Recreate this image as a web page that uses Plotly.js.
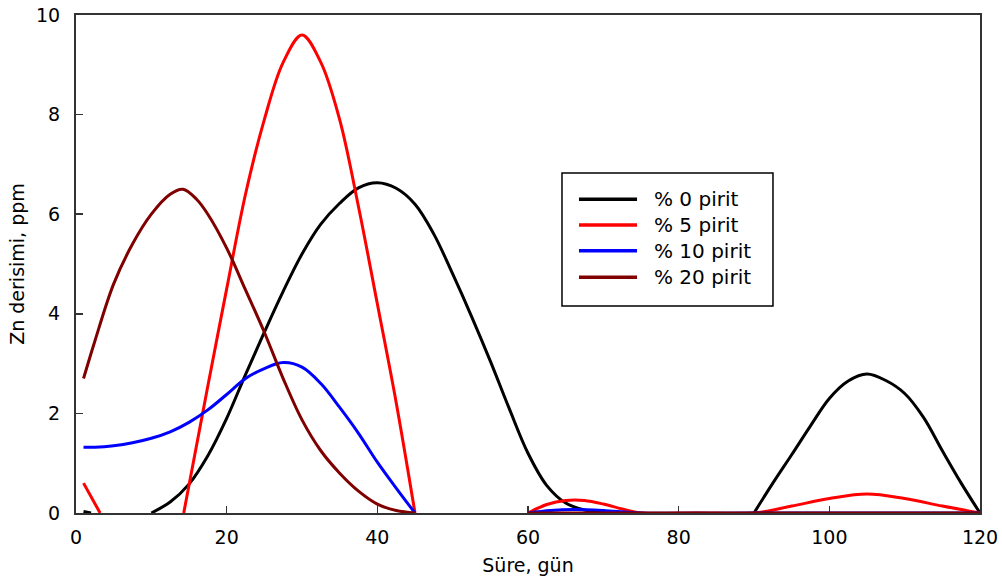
<!DOCTYPE html>
<html>
<head>
<meta charset="utf-8">
<script src="https://cdn.plot.ly/plotly-3.0.1.min.js"></script>
<style>html,body{margin:0;padding:0;background:#fff;}#chart{width:1002px;height:583px;}</style>
</head>
<body>
<div id="chart"></div>
<script>
// Series names and colours
const seriesNames = ["% 0 pirit", "% 5 pirit", "% 10 pirit", "% 20 pirit"];
const seriesColors = ["#000000", "#ff0000", "#0000ff", "#800000"];

// % 0 pirit (null = gap)
const days0 = [1, 2, null, 10, 12.5, 15, 17.5, 20, 22.5, 25, 27.5, 30, 32.5, 35, 37.5, 40, 42.5, 45, 47.5, 50, 52.5, 55, 57.5, 60, 62.5, 65, 67.5, 70.5, null, 90, 92.5, 95, 97.5, 100, 102.5, 105, 107.5, 110, 112.5, 115, 117.5, 120];
const zn0   = [0.03, 0, null, 0, 0.22, 0.58, 1.15, 1.9, 2.78, 3.63, 4.45, 5.2, 5.8, 6.22, 6.53, 6.63, 6.52, 6.2, 5.6, 4.8, 3.95, 3.05, 2.1, 1.2, 0.55, 0.2, 0.06, 0, null, 0, 0.6, 1.17, 1.75, 2.3, 2.65, 2.79, 2.66, 2.4, 1.92, 1.25, 0.6, 0];

// % 5 pirit
const days5 = [1, 3.2, null, 14.3, 17.5, 20, 22.5, 25, 27.5, 30, 32.5, 35, 37.5, 40, 42.5, 45, null, 60, 62.5, 65, 67.5, 70, 72.5, 75, 82.5, 90, 95, 100, 105, 110, 115, 120];
const zn5   = [0.6, 0, null, 0, 2.55, 4.5, 6.4, 7.9, 9.05, 9.6, 9.05, 7.9, 6.15, 4.2, 2.22, 0, null, 0, 0.17, 0.25, 0.25, 0.18, 0.08, 0, 0, 0, 0.14, 0.29, 0.38, 0.29, 0.14, 0];

// % 10 pirit
const days10 = [1, 2.5, 5, 7.5, 10, 12.5, 15, 17.5, 20, 22.5, 25, 27.5, 30, 32.5, 35, 37.5, 40, 42.5, 45, null, 60, 63, 66, 70, 75, 90, 105, 120];
const zn10   = [1.32, 1.32, 1.35, 1.41, 1.5, 1.63, 1.82, 2.07, 2.38, 2.7, 2.9, 3.02, 2.93, 2.6, 2.12, 1.6, 1.02, 0.5, 0, null, 0, 0.05, 0.07, 0.05, 0, 0, 0, 0];

// % 20 pirit
const days20 = [1, 2.5, 5, 7.5, 10, 12.5, 14.2, 16, 17.5, 20, 22.5, 25, 27.5, 30, 32.5, 35, 37.5, 40, 42.5, 45, null, 60, 75, 90, 105, 120];
const zn20   = [2.7, 3.45, 4.6, 5.4, 6.0, 6.4, 6.5, 6.3, 6.0, 5.32, 4.48, 3.63, 2.7, 1.87, 1.25, 0.8, 0.44, 0.18, 0.05, 0, null, 0, 0, 0, 0, 0];

const xTicks = [0, 20, 40, 60, 80, 100, 120];
const yTicks = [0, 2, 4, 6, 8, 10];

const xs = [days0, days5, days10, days20];
const ys = [zn0, zn5, zn10, zn20];

const traces = xs.map((x, i) => ({
  x: x, y: ys[i], name: seriesNames[i], type: 'scatter', mode: 'lines',
  line: {color: seriesColors[i], width: 3, shape: 'spline', smoothing: 1},
  connectgaps: false, showlegend: false
}));

const font = {family: 'DejaVu Sans, Arial, sans-serif', color: '#000'};

// Manual legend (paper coordinates)
const legBox = {x0: 0.5376, x1: 0.771, y0: 0.4157, y1: 0.6827};
const legRowY = [0.630, 0.5783, 0.5267, 0.4733];
const shapes = [{
  type: 'rect', xref: 'paper', yref: 'paper',
  x0: legBox.x0, x1: legBox.x1, y0: legBox.y0, y1: legBox.y1,
  line: {color: '#000', width: 1.5}, fillcolor: '#fff', layer: 'above'
}];
const annotations = [];
seriesNames.forEach((n, i) => {
  shapes.push({type: 'line', xref: 'paper', yref: 'paper',
    x0: 0.5564, x1: 0.6206, y0: legRowY[i], y1: legRowY[i],
    line: {color: seriesColors[i], width: 3.5}, layer: 'above'});
  annotations.push({xref: 'paper', yref: 'paper', x: 0.6368, y: legRowY[i],
    xanchor: 'left', yanchor: 'middle', showarrow: false, text: n,
    font: Object.assign({size: 20}, font)});
});

const layout = {
  width: 1002, height: 583,
  margin: {l: 76, r: 22, t: 15, b: 70},
  paper_bgcolor: '#fff', plot_bgcolor: 'rgba(0,0,0,0)',
  showlegend: false,
  shapes: shapes, annotations: annotations,
  xaxis: {
    range: [0, 120], tickvals: xTicks, ticktext: xTicks.map(String),
    ticks: 'inside', ticklen: 7, tickwidth: 1.5, tickcolor: '#333',
    showline: true, linecolor: '#333', linewidth: 2, mirror: true,
    showgrid: false, zeroline: false, layer: 'below traces',
    tickfont: Object.assign({size: 19}, font), ticklabelstandoff: 6,
    title: {text: 'Süre, gün', font: Object.assign({size: 19}, font), standoff: 12}
  },
  yaxis: {
    range: [0, 10], tickvals: yTicks, ticktext: yTicks.map(String),
    ticks: 'inside', ticklen: 7, tickwidth: 1.5, tickcolor: '#333',
    showline: true, linecolor: '#333', linewidth: 2, mirror: true,
    showgrid: false, zeroline: false, layer: 'below traces',
    tickfont: Object.assign({size: 19}, font), ticklabelstandoff: 10,
    title: {text: 'Zn derisimi, ppm', font: Object.assign({size: 19}, font), standoff: 6}
  }
};

Plotly.newPlot('chart', traces, layout, {displayModeBar: false, staticPlot: true});
</script>
</body>
</html>
